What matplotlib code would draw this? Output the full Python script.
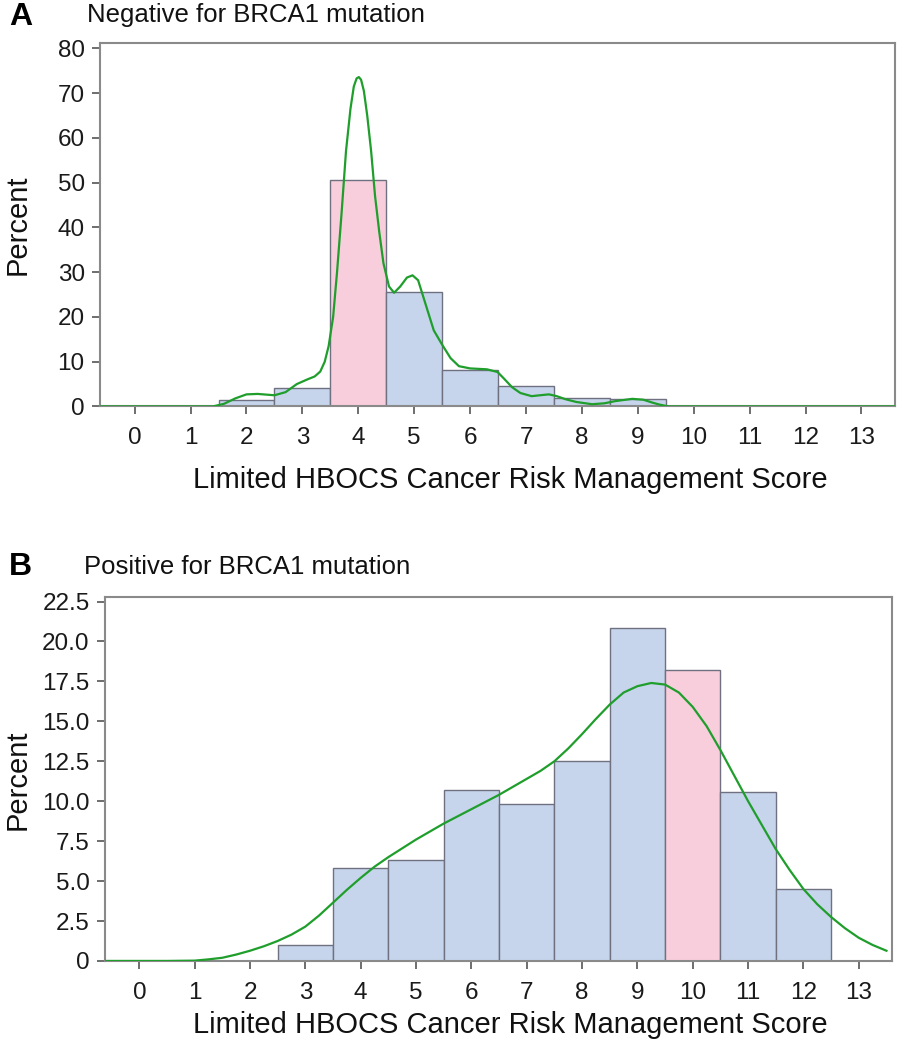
import matplotlib
matplotlib.use("Agg")
import matplotlib.pyplot as plt

plt.rcParams['font.family'] = ['Liberation Sans', 'DejaVu Sans']

# scores on the x axis
scores = list(range(14))

# panel A: negative for BRCA1 mutation (percent per score)
pct_neg = [0, 0, 1.5, 4.2, 50.7, 25.6, 8.2, 4.5, 1.9, 1.6, 0, 0, 0, 0]
hl_neg = 4
curve_neg_x = [-0.62, 1.4, 1.6, 1.8, 2.0, 2.2, 2.5, 2.7, 2.9, 3.1, 3.22, 3.32,
               3.4, 3.47, 3.55, 3.62, 3.7, 3.78, 3.86, 3.92, 3.97, 4.01, 4.05, 4.1,
               4.16, 4.23, 4.3, 4.375, 4.45, 4.55, 4.64, 4.75, 4.87, 4.97, 5.07,
               5.2, 5.35, 5.5, 5.65, 5.8, 6.0, 6.3, 6.49, 6.6, 6.75, 6.9, 7.1,
               7.25, 7.41, 7.55, 7.71, 7.9, 8.18, 8.4, 8.6, 8.9, 9.1, 9.25,
               9.375, 9.55, 13.6]
curve_neg_y = [0, 0, 0.6, 1.8, 2.7, 2.8, 2.5, 3.2, 5.0, 6.1, 6.7, 7.8,
               10.0, 13.5, 20, 30, 43, 57, 66.5, 71.5, 73.3, 73.6, 73.0, 70.5,
               65, 57, 47, 39, 32, 26.8, 25.4, 26.8, 28.8, 29.3, 28.2,
               23, 17, 13.8, 10.8, 9.0, 8.5, 8.3, 7.7, 6.3, 4.3, 3.0, 2.3,
               2.5, 2.7, 2.3, 1.6, 1.0, 0.5, 0.7, 1.2, 1.7, 1.5, 0.9,
               0.45, 0, 0]

# panel B: positive for BRCA1 mutation
pct_pos = [0, 0, 0, 1.0, 5.85, 6.3, 10.7, 9.8, 12.5, 20.85, 18.2, 10.6, 4.5, 0]
hl_pos = 10
curve_pos_x = [-0.6, 0.5, 1.0, 1.25, 1.5, 1.75, 2.0, 2.25, 2.5, 2.75, 3.0, 3.25,
               3.5, 3.75, 4.0, 4.25, 4.5, 4.75, 5.0, 5.25, 5.5, 5.75, 6.0, 6.25,
               6.5, 6.75, 7.0, 7.25, 7.5, 7.75, 8.0, 8.25, 8.5, 8.75, 9.0, 9.25,
               9.5, 9.75, 10.0, 10.25, 10.5, 10.75, 11.0, 11.25, 11.5, 11.75,
               12.0, 12.25, 12.5, 12.75, 13.0, 13.25, 13.5]
curve_pos_y = [0, 0, 0.02, 0.1, 0.2, 0.4, 0.64, 0.92, 1.25, 1.65, 2.15, 2.85,
               3.65, 4.45, 5.2, 5.9, 6.5, 7.05, 7.6, 8.1, 8.6, 9.05, 9.5, 9.95,
               10.4, 10.9, 11.4, 11.9, 12.5, 13.3, 14.2, 15.15, 16.05, 16.8, 17.2, 17.4,
               17.3, 16.8, 15.9, 14.7, 13.2, 11.6, 10.0, 8.5, 7.0, 5.7,
               4.5, 3.55, 2.75, 2.05, 1.45, 1.0, 0.64]

blue = '#c6d5ec'
pink = '#f8cedc'
edge = '#6f7080'
green = '#1f9e2c'
frame = '#8a8a8a'


def draw_panel(ax, pct, hl, cx, cy, ymax, yticks, ylabels):
    colors = [pink if s == hl else blue for s in scores]
    shown = [i for i, p in enumerate(pct) if p > 0]
    ax.bar([scores[i] for i in shown], [pct[i] for i in shown], width=1.0,
           color=[colors[i] for i in shown], edgecolor=edge, linewidth=1.0,
           zorder=2)
    ax.plot(cx, cy, color=green, linewidth=1.6, zorder=3,
            solid_joinstyle='round')
    ax.set_xlim(-0.62, 13.6)
    ax.set_ylim(0, ymax)
    ax.set_xticks(scores)
    ax.set_xticklabels([str(s) for s in scores])
    ax.set_yticks(yticks)
    ax.set_yticklabels(ylabels)
    for sp in ax.spines.values():
        sp.set_color(frame)
        sp.set_linewidth(1.5)
    ax.tick_params(axis='both', direction='out', length=6, width=1.2,
                   color='#555555', labelsize=17.5, labelcolor='#1a1a1a')
    ax.tick_params(axis='x', pad=9)
    ax.tick_params(axis='y', pad=5)


fig = plt.figure(figsize=(8.99, 10.5), dpi=100)

ax_a = fig.add_axes([0.1112, 0.6129, 0.8844, 0.3461])
draw_panel(ax_a, pct_neg, hl_neg, curve_neg_x, curve_neg_y, 81.2,
           list(range(0, 81, 10)), [str(v) for v in range(0, 81, 10)])

ax_b = fig.add_axes([0.1168, 0.0848, 0.8754, 0.3469])
yb = [0, 2.5, 5.0, 7.5, 10.0, 12.5, 15.0, 17.5, 20.0, 22.5]
draw_panel(ax_b, pct_pos, hl_pos, curve_pos_x, curve_pos_y, 22.8,
           yb, ['0'] + ['%.1f' % v for v in yb[1:]])

# panel letters and titles
fig.text(9 / 899, 1 - 17 / 1050, 'A', fontsize=23, fontweight='bold', va='center')
fig.text(87 / 899, 1 - 15 / 1050, 'Negative for BRCA1 mutation', fontsize=18.5,
         va='center', color='#111111')
fig.text(9 / 899, 1 - 567 / 1050, 'B', fontsize=23, fontweight='bold', va='center')
fig.text(84 / 899, 1 - 567 / 1050, 'Positive for BRCA1 mutation', fontsize=18.5,
         va='center', color='#111111')

# axis labels
for yc in (480, 1025):
    fig.text(510 / 899, 1 - yc / 1050, 'Limited HBOCS Cancer Risk Management Score',
             fontsize=21, ha='center', va='center', color='#111111')
for yc in (225, 780):
    fig.text(18 / 899, 1 - yc / 1050, 'Percent', fontsize=21, rotation=90,
             ha='center', va='center', color='#111111')

fig.savefig('out.png', dpi=100)
